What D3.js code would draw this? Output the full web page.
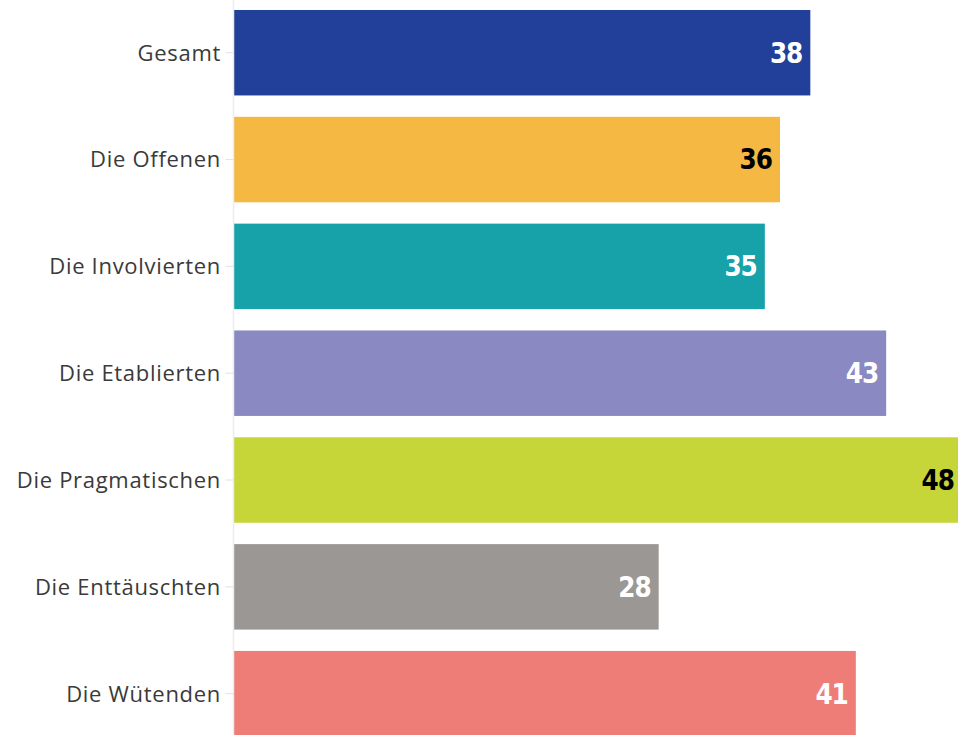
<!DOCTYPE html>
<html><head><meta charset="utf-8">
<script src="https://cdn.jsdelivr.net/npm/d3@7"></script>
<style>
html,body{margin:0;padding:0;background:#fff;}
svg{display:block;}
</style></head>
<body>
<svg id="chart" width="958" height="735"></svg>
<script>
const categories = ["Gesamt","Die Offenen","Die Involvierten","Die Etablierten","Die Pragmatischen","Die Enttäuschten","Die Wütenden"];
const values = [38,36,35,43,48,28,41];
const colors = ["#22409a","#f5b843","#16a2a8","#8a89c2","#c6d538","#9b9795","#ef7d77"];
const labelColors = ["#ffffff","#000000","#ffffff","#ffffff","#000000","#ffffff","#ffffff"];

const svg = d3.select("#chart");
const left = 234;
const x = d3.scaleLinear().domain([0,48]).range([left, left + 728]);
const y = d3.scaleBand().domain(categories).range([-0.7, 747.1]).paddingInner(0.2).paddingOuter(0.1);

const data = categories.map((c,i)=>({c, v:values[i], col:colors[i], lc:labelColors[i]}));

svg.selectAll("rect.bar").data(data).enter().append("rect")
  .attr("class","bar")
  .attr("x", x(0))
  .attr("y", d=>y(d.c))
  .attr("width", d=>x(d.v)-x(0))
  .attr("height", y.bandwidth())
  .attr("fill", d=>d.col);

const ax = svg.append("g").attr("transform",`translate(${left - 0.5},0)`)
  .call(d3.axisLeft(y).tickSize(8).tickPadding(4.5));
ax.select(".domain").attr("stroke","#ececec").attr("stroke-width",1.5).attr("d","M0,0V735");
ax.selectAll(".tick line").attr("stroke","#e3e3e3");
ax.selectAll(".tick text").attr("fill","#3a3a3a").attr("font-family","'Open Sans', Lato, sans-serif").attr("font-size",22).attr("letter-spacing","0.7px").attr("dy","0.36em");

svg.selectAll("text.val").data(data).enter().append("text")
  .attr("class","val")
  .attr("x", d=>x(d.v)-8)
  .attr("y", d=>y(d.c)+y.bandwidth()/2)
  .attr("dy","0.36em")
  .attr("text-anchor","end")
  .attr("fill", d=>d.lc)
  .attr("font-family","'DejaVu Sans Condensed','DejaVu Sans',sans-serif")
  .attr("font-stretch","condensed")
  .attr("font-weight","bold")
  .attr("font-size",27.5)
  .attr("letter-spacing","-1px")
  .text(d=>d.v);
</script>
</body></html>
